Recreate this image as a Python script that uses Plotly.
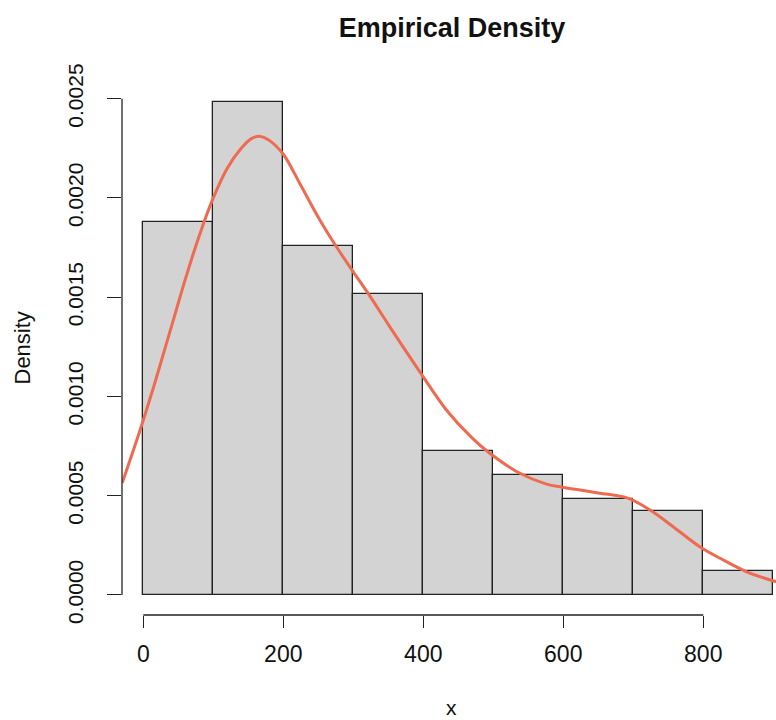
import plotly.graph_objects as go

# ---- data ----
bin_edges = [0, 100, 200, 300, 400, 500, 600, 700, 800, 900]
densities = [0.001879, 0.002485, 0.001758, 0.001515, 0.000727, 0.000606, 0.000485, 0.000424, 0.000121]

kde_x = [-30, -15, 0, 15, 30, 45, 60, 80, 100, 120, 140, 155, 167, 180, 200, 224, 252, 274, 298,
         324, 352, 398, 433, 470, 495, 538, 575, 598, 624, 652, 693, 724, 757, 795, 824, 862, 904]
kde_y = [0.000565, 0.00072, 0.00088, 0.00105, 0.00123, 0.00141, 0.00159, 0.00181, 0.00200,
         0.00215, 0.00225, 0.00230, 0.00231, 0.00229, 0.00222, 0.00207, 0.00189, 0.001764, 0.001638,
         0.001504, 0.001352, 0.001109, 0.000932, 0.00079, 0.000714, 0.000613, 0.00056, 0.000543,
         0.000529, 0.000513, 0.000487, 0.000428, 0.000344, 0.000243, 0.000185, 0.000117, 0.000067]

x_ticks = [0, 200, 400, 600, 800]
y_ticks = [0.0, 0.0005, 0.0010, 0.0015, 0.0020, 0.0025]
y_tick_text = ["0.0000", "0.0005", "0.0010", "0.0015", "0.0020", "0.0025"]

title_text = "Empirical Density"
x_label = "x"
y_label = "Density"

# ---- figure ----
centers = [(a + b) / 2 for a, b in zip(bin_edges[:-1], bin_edges[1:])]
widths = [b - a for a, b in zip(bin_edges[:-1], bin_edges[1:])]

FONT = "Liberation Sans, Arial, sans-serif"

fig = go.Figure()
fig.add_trace(go.Bar(
    x=centers, y=densities, width=widths,
    marker=dict(color="#D3D3D3", line=dict(color="#222222", width=1.3)),
    showlegend=False, hoverinfo="skip",
))
fig.add_trace(go.Scatter(
    x=kde_x, y=kde_y, mode="lines",
    line=dict(color="#EE6A50", width=3, shape="spline", smoothing=1.0),
    showlegend=False, hoverinfo="skip",
))

# R-style axis lines spanning only the tick range
fig.add_shape(type="line", xref="x", yref="paper", x0=min(x_ticks), x1=max(x_ticks), y0=0, y1=0,
              line=dict(color="#222222", width=1.3))
fig.add_shape(type="line", xref="paper", yref="y", x0=0, x1=0, y0=min(y_ticks), y1=max(y_ticks),
              line=dict(color="#222222", width=1.3))

fig.update_layout(
    width=776, height=720,
    margin=dict(l=122, r=0, t=82, b=105),
    paper_bgcolor="white", plot_bgcolor="white",
    font=dict(family=FONT, color="#111111"),
    bargap=0,
    title=dict(text="<b>" + title_text + "</b>", font=dict(size=27, family=FONT, color="#111111"),
               x=452 / 776, xref="container", xanchor="center",
               y=1 - 28 / 720, yref="container", yanchor="middle"),
    xaxis=dict(range=[-30.4, 903.9], showgrid=False, zeroline=False, showline=False,
               tickvals=x_ticks, ticktext=[str(v) for v in x_ticks],
               ticks="outside", ticklen=12, tickwidth=1.3, tickcolor="#222222",
               tickfont=dict(size=23, family=FONT, color="#111111"),
               ticklabelstandoff=6),
    yaxis=dict(range=[-0.0001008, 0.002584], showgrid=False, zeroline=False, showline=False,
               tickvals=y_ticks, ticktext=y_tick_text, tickangle=-90,
               ticks="outside", ticklen=14, tickwidth=1.3, tickcolor="#222222",
               tickfont=dict(size=21, family=FONT, color="#111111"),
               ticklabelstandoff=16),
    annotations=[
        dict(text=y_label, xref="paper", yref="paper", x=0, y=0.5, xshift=-100,
             textangle=-90, showarrow=False, xanchor="center", yanchor="middle",
             font=dict(size=22, family=FONT, color="#111111")),
        dict(text=x_label, xref="paper", yref="paper", x=(451 - 122) / 654, y=0, yshift=-92,
             showarrow=False, xanchor="center", yanchor="middle",
             font=dict(size=21, family=FONT, color="#111111")),
    ],
)

fig.write_html("out.html")
